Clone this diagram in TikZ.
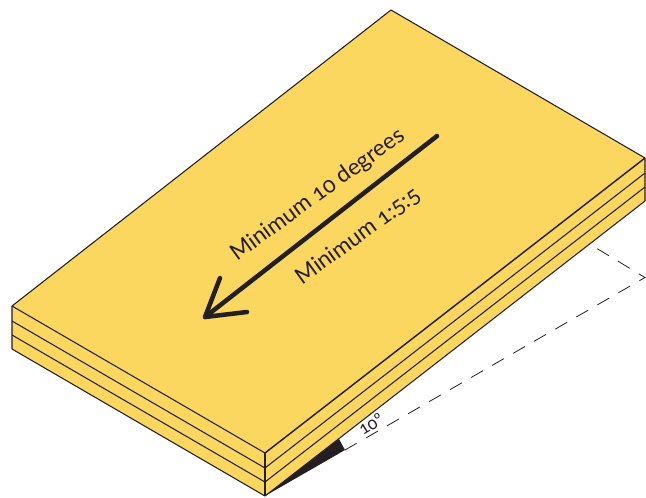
\documentclass[tikz,border=0pt]{standalone}
\usepackage{fontspec}
\setmainfont[Numbers=OldStyle]{Lato}
\usetikzlibrary{calc}
\definecolor{gelb}{HTML}{FBD760}
\definecolor{dunkel}{HTML}{231F20}

\begin{document}
\begin{tikzpicture}[
        x=0.75pt, y=-0.75pt,
        face/.style={draw=dunkel, fill=gelb, line width=0.8pt, line join=round},
        edge/.style={draw=dunkel, line width=0.8pt},
        dim/.style={draw=dunkel, line width=0.6pt, dash pattern=on 10.2pt off 8pt},
        fall/.style={draw=dunkel, line width=3.4pt, line cap=round, line join=round},
        lbl/.style={text=dunkel, font=\fontsize{17}{20}\selectfont, inner sep=0pt, rotate=36}
      ]
      \useasboundingbox (0,0) rectangle (646,497);

      \coordinate (back) at (391,10);
      \coordinate (right) at (645,158);
      \coordinate (left) at (12,306);
      \coordinate (front) at (265,453);

      % Dachkörper
      \draw[face] (left) -- (back) -- (right) -- (645,201) -- (265,496) -- (12,349) -- cycle;
      \draw[edge] (left) -- (front);
      \draw[edge, line width=1.1pt] (front) -- (right);
      \draw[edge] (front) -- (265,496);
      \draw[edge] (12,321) -- (265,468) -- (645,173);
      \draw[edge] (12,335) -- (265,482) -- (645,187);

      % Gefälle
      \coordinate (kante) at (645,277.5);
      \fill[dunkel] (265,496) -- (339,439) -- (345,450) -- cycle;
      \draw[dim] (597.3,248.7) -- (kante) -- (345,450);
      \node[text=dunkel, font=\fontsize{13}{15}\selectfont, inner sep=0pt, rotate=31] (winkel) at (371,424) {10º};

      % Pfeil
      \coordinate (tip) at (205,317);
      \draw[fall] (437,136) -- (tip);
      \draw[fall] (220,278) -- (tip) -- (247,312);
      \node[lbl] (minwinkel) at (318,195) {Minimum 10 degrees};
      \node[lbl] (minrate) at (358,236) {Minimum 1:5:5};
    \end{tikzpicture}
\end{document}
